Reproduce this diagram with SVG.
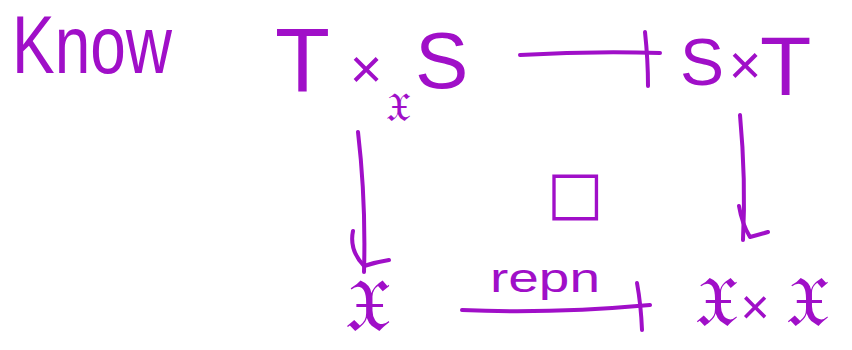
<svg xmlns="http://www.w3.org/2000/svg" width="852" height="350" viewBox="0 0 852 350">
<style>
  text { fill: #a00fc8; font-family: "Liberation Sans", "DejaVu Sans", sans-serif; }
  .fr { font-family: "DejaVu Serif", "DejaVu Sans", serif; }
  .ln { fill: none; stroke: #a00fc8; stroke-width: 4; stroke-linecap: round; stroke-linejoin: round; }
</style>
<rect width="852" height="350" fill="#ffffff"/>
<g id="title"><text x="12" y="73" font-size="82" textLength="160" lengthAdjust="spacingAndGlyphs">Know</text></g>
<g id="node-TxS">
  <text x="275" y="92" font-size="90">T</text>
  <text x="366" y="88" font-size="56" text-anchor="middle">×</text>
  <text class="fr" x="398" y="121" font-size="40" text-anchor="middle">𝔛</text>
  <text x="415" y="88" font-size="80">S</text>
</g>
<g id="node-SxT">
  <text x="680" y="85" font-size="66">S</text>
  <text x="745" y="84" font-size="56" text-anchor="middle">×</text>
  <text x="760" y="95" font-size="84">T</text>
</g>
<g id="node-X">
  <text class="fr" x="367" y="331" font-size="74" text-anchor="middle">𝔛</text>
</g>
<g id="node-XxX">
  <text class="fr" x="716" y="326" font-size="70" text-anchor="middle">𝔛</text>
  <text x="755" y="324" font-size="50" text-anchor="middle">×</text>
  <text class="fr" x="807" y="326" font-size="70" text-anchor="middle">𝔛</text>
</g>
<g id="square">
  <text class="fr" x="575" y="213" font-size="60" text-anchor="middle">□</text>
</g>
<g id="connectors">
  <path class="ln" d="M520,55 Q590,51 660,53"/>
  <path class="ln" d="M645,32 Q648,60 648,86"/>
  <path class="ln" d="M462,310 Q550,314 650,305"/>
  <path class="ln" d="M637,283 Q641,305 642,330"/>
  <path class="ln" d="M358,132 Q366,200 364,272"/>
  <path class="ln" d="M353,231 Q349,250 364,266 Q376,262 389,260"/>
  <path class="ln" d="M740,115 Q746,180 743,240"/>
  <path class="ln" d="M739,206 Q742,224 750,237 Q758,235 768,232"/>
  <text x="545" y="292" font-size="40" text-anchor="middle" textLength="110" lengthAdjust="spacingAndGlyphs">repn</text>
</g>
</svg>
